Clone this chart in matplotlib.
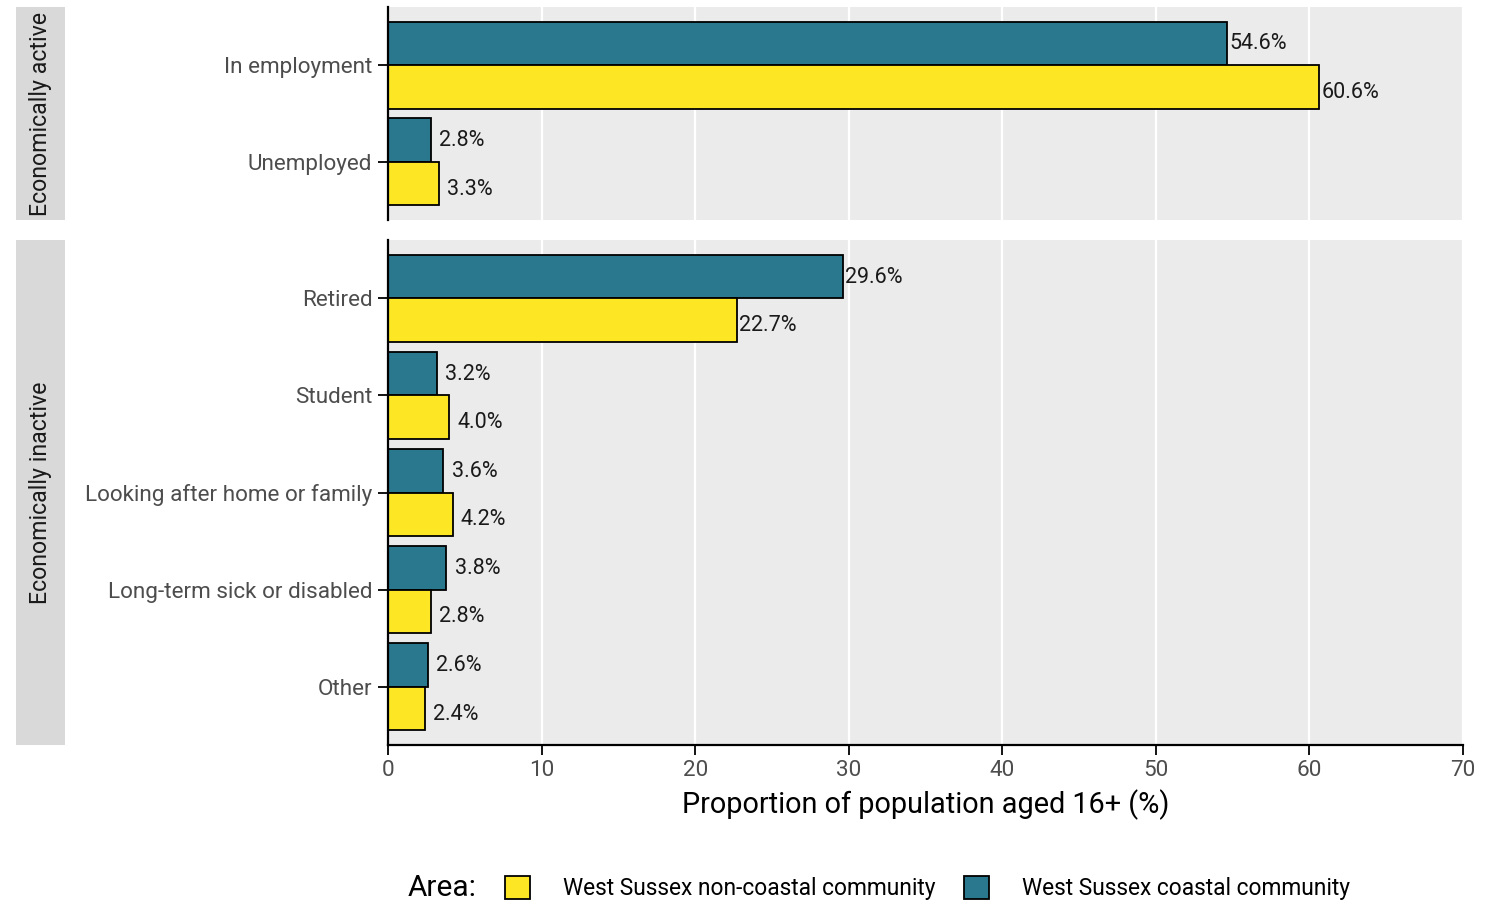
import matplotlib
matplotlib.use("Agg")
import matplotlib.pyplot as plt
from matplotlib.patches import Patch

plt.rcParams["font.family"] = ["Roboto", "DejaVu Sans"]

# data
active_cats = ["In employment", "Unemployed"]
active_coastal = [54.6, 2.8]
active_noncoastal = [60.6, 3.3]

inactive_cats = ["Retired", "Student", "Looking after home or family",
                 "Long-term sick or disabled", "Other"]
inactive_coastal = [29.6, 3.2, 3.6, 3.8, 2.6]
inactive_noncoastal = [22.7, 4.0, 4.2, 2.8, 2.4]

panel_labels = ["Economically active", "Economically inactive"]
legend_labels = ["West Sussex non-coastal community", "West Sussex coastal community"]
x_ticks = [0, 10, 20, 30, 40, 50, 60, 70]

TEAL = "#2A788E"
YELLOW = "#FDE725"
PANEL_BG = "#EBEBEB"
STRIP_BG = "#D9D9D9"

W, H = 1504, 901
fig = plt.figure(figsize=(W / 100, H / 100), dpi=100)


def px_axes(x0, y0, x1, y1):
    # pixel box (top-left origin) -> figure axes
    return fig.add_axes([x0 / W, (H - y1) / H, (x1 - x0) / W, (y1 - y0) / H])


def draw_panel(ax, cats, coastal, noncoastal, show_x):
    n = len(cats)
    pos = list(range(1, n + 1))
    ax.set_facecolor(PANEL_BG)
    for t in x_ticks:
        ax.axvline(t, color="white", lw=1.6, zorder=0)
    ax.barh([p - 0.225 for p in pos], coastal, height=0.45, color=TEAL,
            edgecolor="black", lw=1.3, zorder=2)
    ax.barh([p + 0.225 for p in pos], noncoastal, height=0.45, color=YELLOW,
            edgecolor="black", lw=1.3, zorder=2)
    # labels are dodged a little wider than the bars
    for p, c, nc in zip(pos, coastal, noncoastal):
        for val, yy in ((c, p - 0.25), (nc, p + 0.25)):
            off = 2 if val >= 10 else 6
            ax.annotate(f"{val:.1f}%", (val, yy), xytext=(off, -2.2),
                        textcoords="offset points", ha="left", va="center",
                        fontsize=15.5, color="#1A1A1A")
    ax.set_xlim(0, 70)
    ax.set_ylim(n + 0.6, 0.4)
    ax.set_yticks(pos)
    ax.set_yticklabels(cats, fontsize=16.2, color="#4D4D4D")
    ax.set_xticks(x_ticks)
    for s in ["top", "right"]:
        ax.spines[s].set_visible(False)
    ax.spines["left"].set_linewidth(1.6)
    ax.spines["bottom"].set_linewidth(1.6)
    ax.tick_params(axis="y", length=7, width=1.3, pad=4.3)
    if show_x:
        ax.tick_params(axis="x", length=7, width=1.3, labelsize=16.2,
                      labelcolor="#4D4D4D", pad=4)
        ax.set_xlabel("Proportion of population aged 16+ (%)", fontsize=20.8,
                      color="black", labelpad=6)
    else:
        ax.spines["bottom"].set_visible(False)
        ax.tick_params(axis="x", length=0, labelbottom=False)


ax_top = px_axes(388, 7, 1463, 220)
draw_panel(ax_top, active_cats, active_coastal, active_noncoastal, False)

ax_bot = px_axes(388, 240, 1463, 745)
draw_panel(ax_bot, inactive_cats, inactive_coastal, inactive_noncoastal, True)

# facet strips on the left
for (y0, y1), lab in zip([(7, 220), (240, 745)], panel_labels):
    sax = px_axes(16, y0, 65, y1)
    sax.set_facecolor(STRIP_BG)
    sax.set_xticks([])
    sax.set_yticks([])
    for s in sax.spines.values():
        s.set_visible(False)
    sax.text(0.5, 0.5, lab, rotation=90, ha="center", va="center",
             fontsize=16.7, color="#1A1A1A", transform=sax.transAxes)

# legend sits right at the bottom edge, as in the original
leg_y = (H - 888) / H
fig.text(408 / W, leg_y, "Area:", fontsize=21.5, va="center", ha="left")
handles = [Patch(facecolor=YELLOW, edgecolor="black", lw=1.3),
           Patch(facecolor=TEAL, edgecolor="black", lw=1.3)]
fig.legend(handles, legend_labels, loc="center left",
           bbox_to_anchor=(505 / W, leg_y), ncol=2, frameon=False,
           fontsize=16.4, handlelength=1.1, handleheight=1.2,
           handletextpad=1.45, columnspacing=1.25, borderpad=0, borderaxespad=0)

fig.savefig("out.png", dpi=100)
